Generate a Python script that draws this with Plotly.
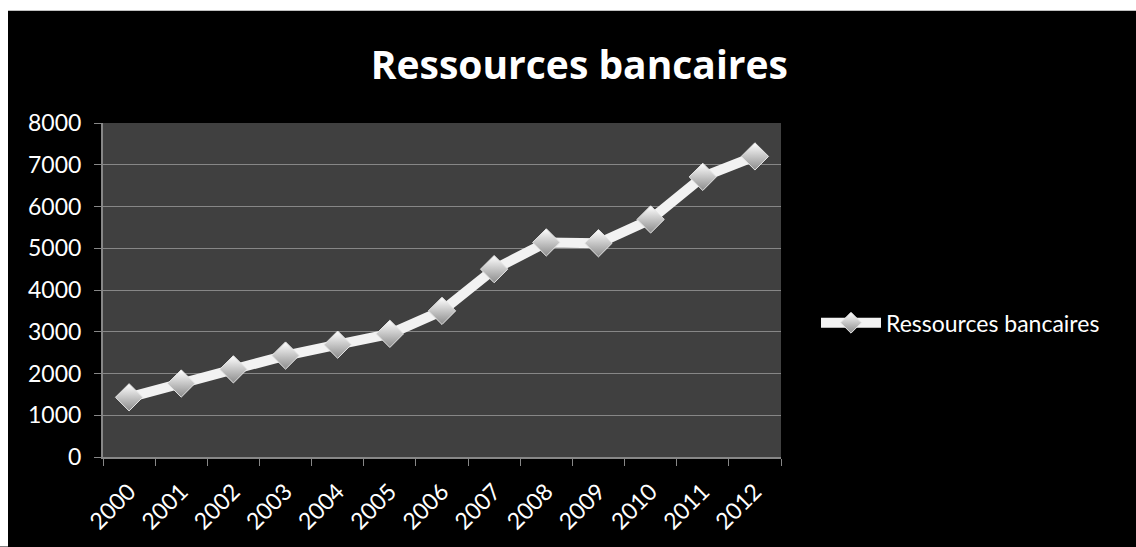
import plotly.graph_objects as go

# Ressources bancaires, 2000-2012
years = ["2000", "2001", "2002", "2003", "2004", "2005", "2006",
         "2007", "2008", "2009", "2010", "2011", "2012"]
ressources = [1430, 1760, 2100, 2430, 2690, 2950, 3500,
              4500, 5140, 5120, 5690, 6710, 7200]
y_ticks = [0, 1000, 2000, 3000, 4000, 5000, 6000, 7000, 8000]

W, H = 1136, 547
L, R, T, B = 103, 781, 123, 459  # plot area in pixels


def px_x(p):
    return (p - L) / (R - L)


def px_y(p):
    return (B - p) / (B - T)


fig = go.Figure()
fig.add_trace(go.Scatter(
    x=years, y=ressources, name="Ressources bancaires",
    mode="lines+markers",
    line=dict(color="#f2f2f2", width=10),
    marker=dict(symbol="diamond", size=21, color="#ffffff",
                gradient=dict(type="vertical", color="#8c8c8c"),
                line=dict(color="#e6e6e6", width=1)),
))

grid = "#878787"
fig.update_layout(
    width=W, height=H,
    margin=dict(l=L, r=W - R, t=T, b=H - B),
    paper_bgcolor="#000000",
    plot_bgcolor="#404040",
    font=dict(family="Lato, Carlito, sans-serif", color="#ffffff", size=23),
    title=dict(text="<b>Ressources bancaires</b>", x=0.51, xanchor="center",
               y=1 - 65 / H, yanchor="middle",
               font=dict(size=39, color="#ffffff",
                         family="Open Sans, sans-serif")),
    showlegend=True,
    legend=dict(x=px_x(816), xanchor="left", y=px_y(324), yanchor="middle",
                bgcolor="rgba(0,0,0,0)", font=dict(size=23, color="#ffffff"),
                itemwidth=60),
    xaxis=dict(type="category", tickangle=-45, tickson="boundaries",
               ticks="outside", ticklen=7, tickcolor=grid,
               showline=True, linecolor=grid, linewidth=2,
               showgrid=False, range=[-0.5, len(years) - 0.5],
               ticklabelstandoff=10, tickfont=dict(size=23)),
    yaxis=dict(range=[0, 8000], tickvals=y_ticks, ticks="outside",
               ticklen=7, tickcolor=grid, showline=True, linecolor=grid,
               linewidth=2, gridcolor=grid, gridwidth=1, zeroline=False,
               ticklabelstandoff=8, tickfont=dict(size=23)),
    shapes=[
        # white frame strips along the top and left edges
        dict(type="rect", xref="paper", yref="paper", layer="above",
             x0=px_x(0), x1=px_x(W), y0=px_y(10), y1=px_y(-2),
             fillcolor="#ffffff", line=dict(width=0)),
        dict(type="rect", xref="paper", yref="paper", layer="above",
             x0=px_x(-2), x1=px_x(8), y0=px_y(H + 2), y1=px_y(0),
             fillcolor="#ffffff", line=dict(width=0)),
    ],
)

fig.write_html("out.html")
